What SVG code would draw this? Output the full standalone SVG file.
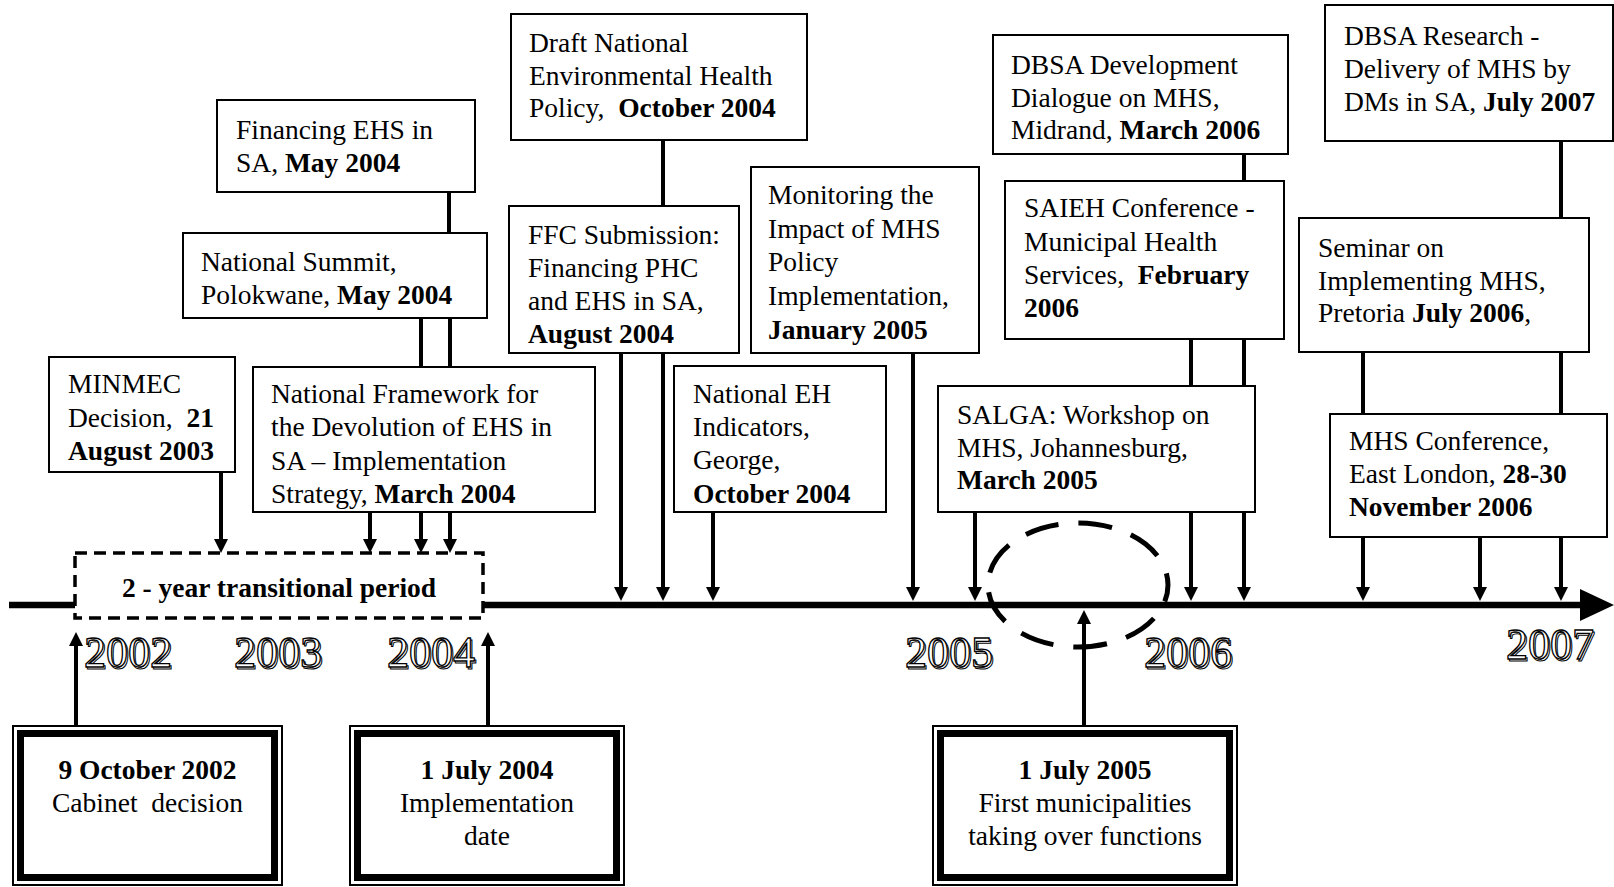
<svg xmlns="http://www.w3.org/2000/svg" width="1614" height="887" viewBox="0 0 1614 887">
<style>
.bg{fill:#fff}
.box{fill:#fff;stroke:#000;stroke-width:2}
.t{font-family:"Liberation Serif","Times New Roman",serif;font-size:27.5px;fill:#000}
.b{font-weight:bold}
.c{text-anchor:middle}
.ln{stroke:#000;stroke-width:4;fill:none}
.ar{stroke:#000;stroke-width:4;fill:none;marker-end:url(#ah)}
.dbo{fill:#fff;stroke:#000;stroke-width:2}
.dbi{fill:none;stroke:#000;stroke-width:7}
.yr{font-family:"Liberation Serif","Times New Roman",serif;font-size:44px;fill:#fff;stroke:#000;stroke-width:1.3}
.ys{font-family:"Liberation Serif","Times New Roman",serif;font-size:44px;fill:none;stroke:#000;stroke-width:1}
</style>
<defs>
<marker id="ah" markerUnits="userSpaceOnUse" markerWidth="15" markerHeight="14" refX="6" refY="7" orient="auto">
<path d="M0,0 L14,7 L0,14 z" fill="#000"/>
</marker>
</defs>
<rect class="bg" x="0" y="0" width="1614" height="887"/>

<g id="timeline">
<line x1="9" y1="605" x2="1582" y2="605" stroke="#000" stroke-width="6.5"/>
<polygon points="1580,589 1614,605 1580,621" fill="#000"/>
</g>

<g id="transitional">
<rect x="75" y="553" width="408" height="65" fill="#fff" stroke="#000" stroke-width="3.5" stroke-dasharray="12 7"/>
<text class="t b c" x="279" y="597">2 - year transitional period</text>
</g>

<g id="focus-ellipse">
<ellipse cx="1078" cy="585" rx="90" ry="62" fill="none" stroke="#000" stroke-width="5" stroke-dasharray="34 20" stroke-dashoffset="17"/>
</g>

<g id="years">
<text class="ys" x="85.5" y="668.5">2002</text><text class="yr" x="84" y="667">2002</text>
<text class="ys" x="235.5" y="668.5">2003</text><text class="yr" x="234" y="667">2003</text>
<text class="ys" x="388.5" y="668.5">2004</text><text class="yr" x="387" y="667">2004</text>
<text class="ys" x="906.5" y="668.5">2005</text><text class="yr" x="905" y="667">2005</text>
<text class="ys" x="1145.5" y="668.5">2006</text><text class="yr" x="1144" y="667">2006</text>
<text class="ys" x="1507.5" y="660.5">2007</text><text class="yr" x="1506" y="659">2007</text>
</g>

<g id="connectors">
<line class="ln" x1="449" y1="192" x2="449" y2="233"/>
<line class="ln" x1="421" y1="318" x2="421" y2="367"/>
<line class="ln" x1="450" y1="318" x2="450" y2="367"/>
<line class="ln" x1="663" y1="140" x2="663" y2="206"/>
<line class="ln" x1="1244" y1="154" x2="1244" y2="181"/>
<line class="ln" x1="1191" y1="339" x2="1191" y2="386"/>
<line class="ln" x1="1244" y1="339" x2="1244" y2="386"/>
<line class="ln" x1="1561" y1="141" x2="1561" y2="218"/>
<line class="ln" x1="1363" y1="352" x2="1363" y2="414"/>
<line class="ln" x1="1561" y1="352" x2="1561" y2="414"/>

<line class="ar" x1="221" y1="472" x2="221" y2="545"/>
<line class="ar" x1="370" y1="512" x2="370" y2="545"/>
<line class="ar" x1="421" y1="512" x2="421" y2="545"/>
<line class="ar" x1="450" y1="512" x2="450" y2="545"/>
<line class="ar" x1="621" y1="353" x2="621" y2="593"/>
<line class="ar" x1="663" y1="353" x2="663" y2="593"/>
<line class="ar" x1="713" y1="512" x2="713" y2="593"/>
<line class="ar" x1="913" y1="353" x2="913" y2="593"/>
<line class="ar" x1="975" y1="512" x2="975" y2="593"/>
<line class="ar" x1="1191" y1="512" x2="1191" y2="593"/>
<line class="ar" x1="1244" y1="512" x2="1244" y2="593"/>
<line class="ar" x1="1363" y1="537" x2="1363" y2="593"/>
<line class="ar" x1="1480" y1="537" x2="1480" y2="593"/>
<line class="ar" x1="1561" y1="537" x2="1561" y2="593"/>

<line class="ar" x1="76" y1="733" x2="76" y2="640"/>
<line class="ar" x1="488" y1="733" x2="488" y2="640"/>
<line class="ar" x1="1084" y1="733" x2="1084" y2="618"/>
</g>

<g id="financing-ehs">
<rect class="box" x="217" y="100" width="258" height="92"/>
<text class="t" x="236" y="139">Financing EHS in</text>
<text class="t" x="236" y="172">SA, <tspan class="b">May 2004</tspan></text>
</g>

<g id="national-summit">
<rect class="box" x="183" y="233" width="304" height="85"/>
<text class="t" x="201" y="271">National Summit,</text>
<text class="t" x="201" y="304">Polokwane, <tspan class="b">May 2004</tspan></text>
</g>

<g id="minmec">
<rect class="box" x="49" y="357" width="186" height="115"/>
<text class="t" x="68" y="393">MINMEC</text>
<text class="t" x="68" y="427" xml:space="preserve">Decision,  <tspan class="b">21</tspan></text>
<text class="t b" x="68" y="460">August 2003</text>
</g>

<g id="national-framework">
<rect class="box" x="253" y="367" width="342" height="145"/>
<text class="t" x="271" y="403">National Framework for</text>
<text class="t" x="271" y="436">the Devolution of EHS in</text>
<text class="t" x="271" y="470">SA – Implementation</text>
<text class="t" x="271" y="503">Strategy, <tspan class="b">March 2004</tspan></text>
</g>

<g id="draft-policy">
<rect class="box" x="511" y="14" width="296" height="126"/>
<text class="t" x="529" y="52">Draft National</text>
<text class="t" x="529" y="85">Environmental Health</text>
<text class="t" x="529" y="117" xml:space="preserve">Policy,  <tspan class="b">October 2004</tspan></text>
</g>

<g id="ffc-submission">
<rect class="box" x="509" y="206" width="230" height="147"/>
<text class="t" x="528" y="244">FFC Submission:</text>
<text class="t" x="528" y="277">Financing PHC</text>
<text class="t" x="528" y="310">and EHS in SA,</text>
<text class="t b" x="528" y="343">August 2004</text>
</g>

<g id="monitoring">
<rect class="box" x="751" y="167" width="228" height="186"/>
<text class="t" x="768" y="204">Monitoring the</text>
<text class="t" x="768" y="238">Impact of MHS</text>
<text class="t" x="768" y="271">Policy</text>
<text class="t" x="768" y="305">Implementation,</text>
<text class="t b" x="768" y="339">January 2005</text>
</g>

<g id="national-eh">
<rect class="box" x="674" y="366" width="212" height="146"/>
<text class="t" x="693" y="403">National EH</text>
<text class="t" x="693" y="436">Indicators,</text>
<text class="t" x="693" y="469">George,</text>
<text class="t b" x="693" y="503">October 2004</text>
</g>

<g id="dbsa-dialogue">
<rect class="box" x="993" y="35" width="295" height="119"/>
<text class="t" x="1011" y="74">DBSA Development</text>
<text class="t" x="1011" y="107">Dialogue on MHS,</text>
<text class="t" x="1011" y="139">Midrand, <tspan class="b">March 2006</tspan></text>
</g>

<g id="saieh">
<rect class="box" x="1005" y="181" width="279" height="158"/>
<text class="t" x="1024" y="217">SAIEH Conference -</text>
<text class="t" x="1024" y="251">Municipal Health</text>
<text class="t" x="1024" y="284" xml:space="preserve">Services,  <tspan class="b">February</tspan></text>
<text class="t b" x="1024" y="317">2006</text>
</g>

<g id="salga">
<rect class="box" x="938" y="386" width="317" height="126"/>
<text class="t" x="957" y="424">SALGA: Workshop on</text>
<text class="t" x="957" y="457">MHS, Johannesburg,</text>
<text class="t b" x="957" y="489">March 2005</text>
</g>

<g id="dbsa-research">
<rect class="box" x="1325" y="5" width="288" height="136"/>
<text class="t" x="1344" y="45">DBSA Research -</text>
<text class="t" x="1344" y="78">Delivery of MHS by</text>
<text class="t" x="1344" y="111">DMs in SA, <tspan class="b">July 2007</tspan></text>
</g>

<g id="seminar">
<rect class="box" x="1299" y="218" width="290" height="134"/>
<text class="t" x="1318" y="257">Seminar on</text>
<text class="t" x="1318" y="290">Implementing MHS,</text>
<text class="t" x="1318" y="322">Pretoria <tspan class="b">July 2006</tspan>,</text>
</g>

<g id="mhs-conference">
<rect class="box" x="1330" y="414" width="277" height="123"/>
<text class="t" x="1349" y="450">MHS Conference,</text>
<text class="t" x="1349" y="483">East London, <tspan class="b">28-30</tspan></text>
<text class="t b" x="1349" y="516">November 2006</text>
</g>

<g id="cabinet-decision">
<rect class="dbo" x="13" y="726" width="269" height="159"/>
<rect class="dbi" x="20.5" y="733.5" width="254" height="144"/>
<text class="t b c" x="147.5" y="779">9 October 2002</text>
<text class="t c" x="147.5" y="812" xml:space="preserve">Cabinet  decision</text>
</g>

<g id="implementation-date">
<rect class="dbo" x="350" y="726" width="274" height="159"/>
<rect class="dbi" x="357.5" y="733.5" width="259" height="144"/>
<text class="t b c" x="487" y="779">1 July 2004</text>
<text class="t c" x="487" y="812">Implementation</text>
<text class="t c" x="487" y="845">date</text>
</g>

<g id="first-municipalities">
<rect class="dbo" x="933" y="726" width="304" height="159"/>
<rect class="dbi" x="940.5" y="733.5" width="289" height="144"/>
<text class="t b c" x="1085" y="779">1 July 2005</text>
<text class="t c" x="1085" y="812">First municipalities</text>
<text class="t c" x="1085" y="845">taking over functions</text>
</g>
</svg>
